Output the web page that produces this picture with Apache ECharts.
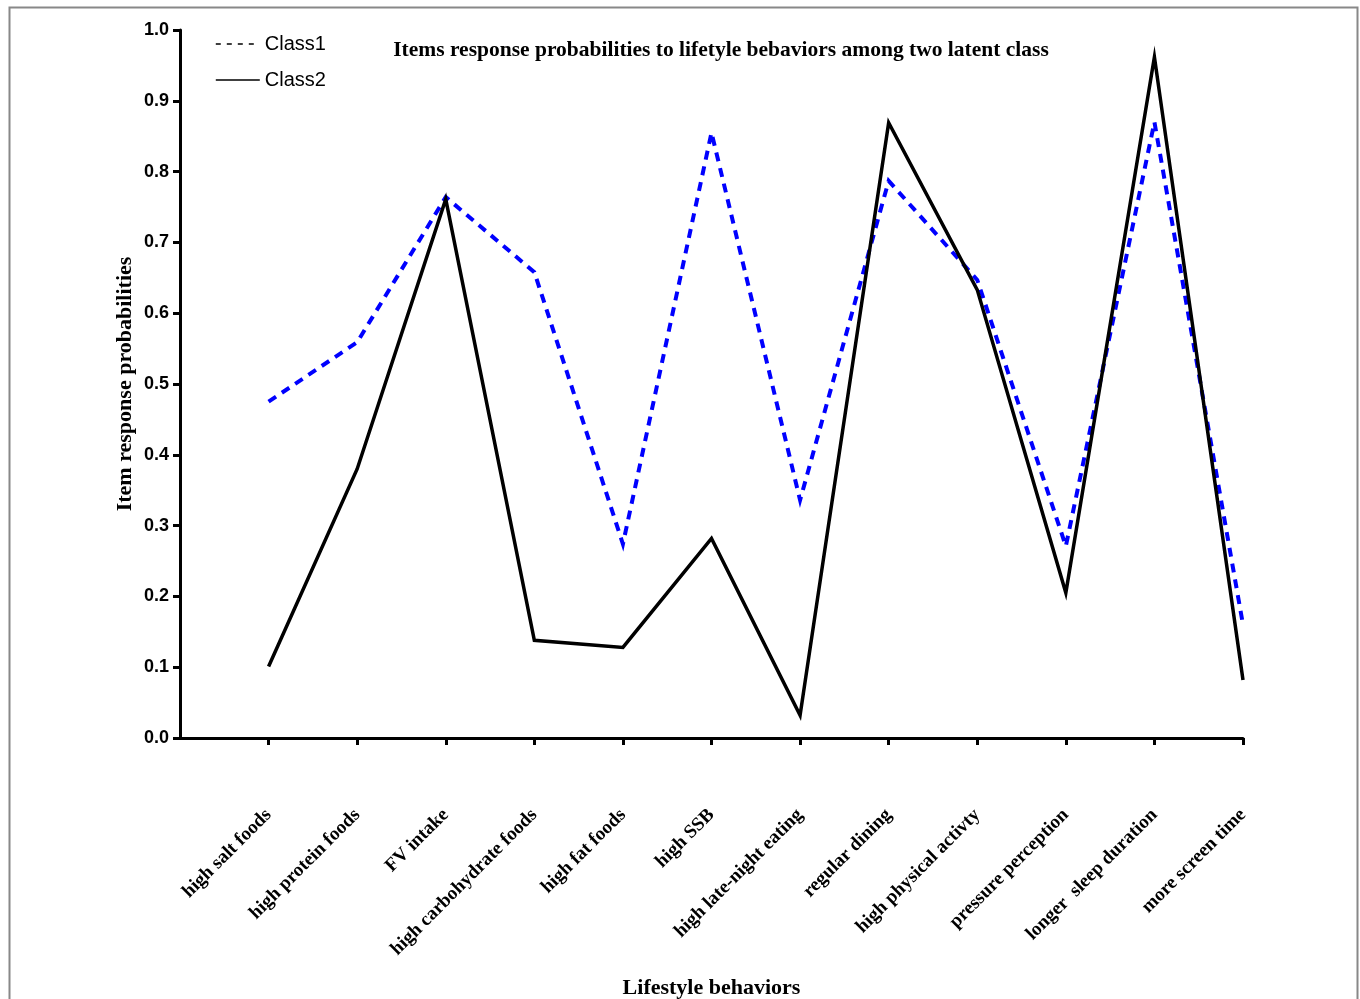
<!DOCTYPE html>
<html>
<head>
<meta charset="utf-8">
<script src="https://cdn.jsdelivr.net/npm/echarts@6/dist/echarts.min.js"></script>
<style>
html,body{margin:0;padding:0;background:#fff;}
#main{width:1360px;height:999px;}
</style>
</head>
<body>
<div id="main"></div>
<script>
const categories = ['high salt foods','high protein foods','FV intake','high carbohydrate foods','high fat foods','high SSB','high late-night eating','regular dining','high physical activty','pressure perception','longer  sleep duration','more screen time'];
const class1 = [0.475, 0.559, 0.764, 0.658, 0.274, 0.855, 0.336, 0.787, 0.647, 0.271, 0.870, 0.160];
const class2 = [0.101, 0.380, 0.761, 0.138, 0.128, 0.282, 0.032, 0.869, 0.633, 0.205, 0.962, 0.082];
const yTicks = [0.0,0.1,0.2,0.3,0.4,0.5,0.6,0.7,0.8,0.9,1.0];

const serif = '"Liberation Serif", "Times New Roman", serif';
const sans = '"Liberation Sans", Arial, sans-serif';

const chart = echarts.init(document.getElementById('main'), null, {renderer:'canvas'});
chart.setOption({
  backgroundColor:'#fff',
  animation:false,
  title:{
    text:'Items response probabilities to lifetyle bebaviors among two latent class',
    left:716, top:34, textAlign:'center',
    textStyle:{fontFamily:serif, fontWeight:'bold', fontSize:21.5, color:'#000'}
  },
  legend:{
    orient:'vertical', left:210, top:29, itemGap:16, itemWidth:44, itemHeight:20,
    textStyle:{fontFamily:sans, fontSize:20, color:'#000'},
    data:[
      {name:'Class1', itemStyle:{color:'rgba(0,0,0,0)', borderWidth:0, opacity:0}, lineStyle:{color:'#000', width:1.6, type:[5,6]}},
      {name:'Class2', itemStyle:{color:'rgba(0,0,0,0)', borderWidth:0, opacity:0}, lineStyle:{color:'#000', width:1.6, type:'solid'}}
    ]
  },
  graphic:[{
    type:'rect', left:7, top:5, shape:{width:1348, height:1010},
    style:{fill:'none', stroke:'#888', lineWidth:2}, silent:true
  }],
  grid:{left:180, right:117, top:30, bottom:261, containLabel:false, outerBoundsMode:'none'},
  xAxis:{
    type:'category', boundaryGap:false,
    data:[''].concat(categories),
    name:'Lifestyle behaviors', nameLocation:'middle', nameGap:239, nameMoveOverlap:false,
    nameTextStyle:{fontFamily:serif, fontWeight:'bold', fontSize:22, color:'#000'},
    axisLine:{lineStyle:{color:'#000', width:3}},
    axisTick:{show:true, length:7, inside:false, interval:function(i){return i>0;}, lineStyle:{color:'#000', width:3}},
    axisLabel:{interval:0, rotate:45, margin:74, fontFamily:serif, fontWeight:'bold', fontSize:19, color:'#000'},
    splitLine:{show:false}
  },
  yAxis:{
    type:'value', min:0, max:1, interval:0.1,
    name:'Item response probabilities', nameLocation:'middle', nameGap:44, nameMoveOverlap:false,
    nameTextStyle:{fontFamily:serif, fontWeight:'bold', fontSize:22, color:'#000'},
    axisLine:{show:true, lineStyle:{color:'#000', width:3}},
    axisTick:{show:true, length:7, lineStyle:{color:'#000', width:3}},
    axisLabel:{margin:11, fontFamily:sans, fontWeight:'bold', fontSize:18, color:'#000',
      formatter:function(v){ return yTicks.includes(Math.round(v*10)/10) ? v.toFixed(1) : ''; }},
    splitLine:{show:false}
  },
  series:[
    {name:'Class1', type:'line', data:[null].concat(class1), showSymbol:false, symbol:'none',
     lineStyle:{color:'#0000ff', width:4, type:[9,7], join:'miter'}, itemStyle:{color:'#0000ff'}, z:2},
    {name:'Class2', type:'line', data:[null].concat(class2), showSymbol:false, symbol:'none',
     lineStyle:{color:'#000', width:3.5, type:'solid', join:'miter'}, itemStyle:{color:'#000'}, z:3}
  ]
});
</script>
</body>
</html>
